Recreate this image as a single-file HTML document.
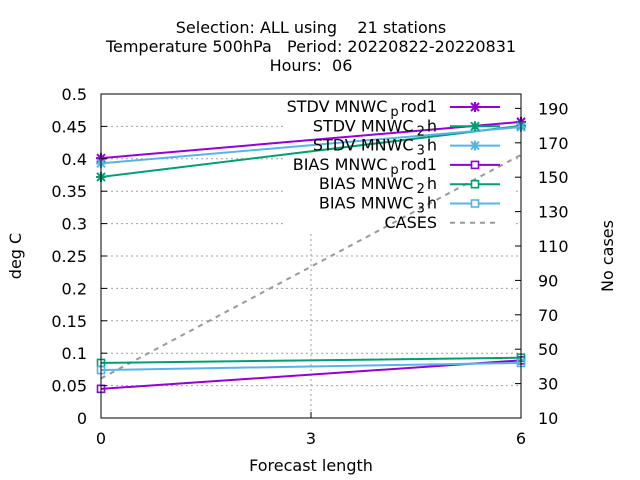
<!DOCTYPE html>
<html><head><meta charset="utf-8"><style>
body{margin:0;background:#fff}
svg{display:block;font-family:"DejaVu Sans","Liberation Sans",sans-serif}
</style></head><body>
<svg id="chart" width="640" height="480" viewBox="0 0 640 480">
<g id="bg"></g>
<g id="series"></g>
<g id="fg"></g>
</svg>
<script>
const steps=[0,6];
const stdvProd1=[0.401,0.457];
const stdv2h=[0.372,0.451];
const stdv3h=[0.393,0.449];
const biasProd1=[0.045,0.089];
const bias2h=[0.085,0.093];
const bias3h=[0.074,0.085];
const casesSteps=[0,6];
const casesVals=[33,163];
const yTicks=[0,0.05,0.1,0.15,0.2,0.25,0.3,0.35,0.4,0.45,0.5];
const yTickLabels=["0","0.05","0.1","0.15","0.2","0.25","0.3","0.35","0.4","0.45","0.5"];
const y2Ticks=[10,30,50,70,90,110,130,150,170,190];
const xTicks=[0,3,6];

const FS=16;
const L=101,R=521,T=94,B=418;
const X=v=>L+(v-0)/6*(R-L);
const Y=v=>B-(v/0.5)*(B-T);
const Y2=v=>B-(v-10)*1.72;
const NS="http://www.w3.org/2000/svg";
function mk(parent,tag,attrs,text){const e=document.createElementNS(NS,tag);for(const k in attrs)e.setAttribute(k,attrs[k]);if(text!==undefined)e.textContent=text;document.getElementById(parent).appendChild(e);return e;}

yTicks.forEach((v,i)=>{
  const y=Y(v);
  if(v>0&&v<0.5){const g=mk('bg','line',{x1:L,x2:R,y1:y,y2:y,stroke:'#a0a0a0','stroke-dasharray':'2,3','stroke-width':1});
  
  }
  const t=mk('fg','line',{x1:L,x2:L+6,y1:y,y2:y,stroke:'#000'});
  
  
  const lb=mk('fg','text',{x:L-14,y:y+6,'text-anchor':'end','font-size':FS},yTickLabels[i]);
  
  
});
y2Ticks.forEach(v=>{
  const y=Y2(v);
  const t=mk('fg','line',{x1:R-6,x2:R,y1:y,y2:y,stroke:'#000'});
  
  
  const lb=mk('fg','text',{x:R+17,y:y+6,'font-size':FS},String(v));
  
  
});
xTicks.forEach(v=>{
  const x=X(v);
  if(v>0&&v<6){const g=mk('bg','line',{x1:x,x2:x,y1:T,y2:B,stroke:'#a0a0a0','stroke-dasharray':'2,3'});
  
  }
  const t=mk('fg','line',{x1:x,x2:x,y1:B,y2:B-6,stroke:'#000'});
  
  
  const lb=mk('fg','text',{x:x,y:B+26,'text-anchor':'middle','font-size':FS},String(v));
  
  
});
const kb=mk('bg','rect',{x:283,y:T+1,width:233,height:139,fill:'#fff'});



function series(name,xs,vals,yf,color,marker,dash){
  const pts=xs.map((s,i)=>X(s)+','+yf(vals[i])).join(' ');
  const a={points:pts,fill:'none',stroke:color,'stroke-width':2};
  if(dash)a['stroke-dasharray']='5,5';
  const p=mk('series','polyline',a);
  
  
  xs.forEach((s,i)=>{drawMarker(X(s),yf(vals[i]),color,marker,name);});
}
function drawMarker(x,y,color,marker,name){
  if(marker==='star'){
    const m=mk('series','path',{d:`M${x-4},${y-4}L${x+4},${y+4}M${x-4},${y+4}L${x+4},${y-4}M${x-5},${y}L${x+5},${y}M${x},${y-5}L${x},${y+5}`,stroke:color,'stroke-width':2});
    
    
  }else if(marker==='box'){
    const m=mk('series','rect',{x:x-3.5,y:y-3.5,width:7,height:7,fill:'none',stroke:color,'stroke-width':1.6});
    
    
  }
}
const P='#9400d3',G='#009e73',C='#56b4e9';
series('cases',casesSteps,casesVals,Y2,'#999999',null,true);
series('stdv-prod1',steps,stdvProd1,Y,P,'star');
series('stdv-2h',steps,stdv2h,Y,G,'star');
series('stdv-3h',steps,stdv3h,Y,C,'star');
series('bias-prod1',steps,biasProd1,Y,P,'box');
series('bias-2h',steps,bias2h,Y,G,'box');
series('bias-3h',steps,bias3h,Y,C,'box');

const leg=[['STDV MNWC','p','rod1',P,'star'],['STDV MNWC','2','h',G,'star'],['STDV MNWC','3','h',C,'star'],
['BIAS MNWC','p','rod1',P,'box'],['BIAS MNWC','2','h',G,'box'],['BIAS MNWC','3','h',C,'box'],['CASES','','','#999999',null]];
leg.forEach((e,i)=>{
  const y=107+i*19.3;
  const t=mk('fg','text',{x:437,y:y+5,'text-anchor':'end','font-size':FS});
  
  
  const s1=document.createElementNS(NS,'tspan');s1.textContent=e[0];t.appendChild(s1);
  if(e[1]){const s2=document.createElementNS(NS,'tspan');s2.setAttribute('dy','4');s2.setAttribute('dx','3');s2.setAttribute('font-size','13');s2.textContent=e[1];t.appendChild(s2);
  const s3=document.createElementNS(NS,'tspan');s3.setAttribute('dy','-4');s3.setAttribute('dx','2');s3.textContent=e[2];t.appendChild(s3);}
  const a={x1:450,x2:500,y1:y,y2:y,stroke:e[3],'stroke-width':2};
  if(!e[4])a['stroke-dasharray']='5,5';
  const l=mk('fg','line',a);
  
  
  if(e[4]){const x=475;
    if(e[4]==='star'){const m=mk('fg','path',{d:`M${x-4},${y-4}L${x+4},${y+4}M${x-4},${y+4}L${x+4},${y-4}M${x-5},${y}L${x+5},${y}M${x},${y-5}L${x},${y+5}`,stroke:e[3],'stroke-width':2});
      
      }
    else{const m=mk('fg','rect',{x:x-3.5,y:y-3.5,width:7,height:7,fill:'#fff',stroke:e[3],'stroke-width':1.6});
      
      }
  }
});

const fr=mk('fg','rect',{x:L,y:T,width:R-L,height:B-T,fill:'none',stroke:'#000','stroke-width':1});


[['Selection: ALL using    21 stations',33],['Temperature 500hPa   Period: 20220822-20220831',52],['Hours:  06',71]].forEach(([s,y])=>{
  const t=mk('fg','text',{x:311,y:y,'text-anchor':'middle','font-size':FS},s);
  t.setAttribute('style','white-space:pre');
  
  
});
const xt=mk('fg','text',{x:311,y:471,'text-anchor':'middle','font-size':FS},'Forecast length');


const yt=mk('fg','text',{x:21,y:256,'text-anchor':'middle','font-size':FS,transform:'rotate(-90 21 256)'},'deg C');


const y2t=mk('fg','text',{x:613,y:256,'text-anchor':'middle','font-size':FS,transform:'rotate(-90 613 256)'},'No cases');


</script>
</body></html>
